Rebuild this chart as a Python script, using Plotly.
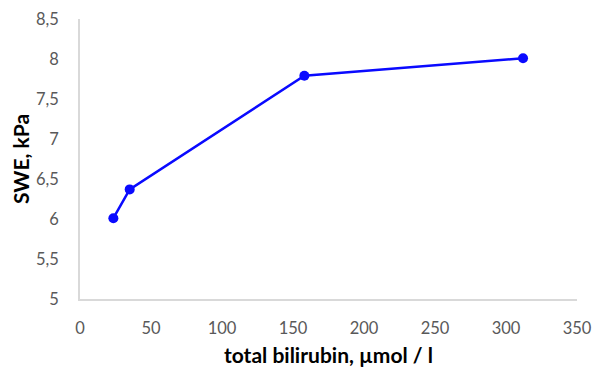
import plotly.graph_objects as go

bilirubin = [23.5, 35, 158, 312]
swe = [6.01, 6.37, 7.79, 8.01]
x_ticks = [0, 50, 100, 150, 200, 250, 300, 350]
y_ticks = [5, 5.5, 6, 6.5, 7, 7.5, 8, 8.5]

fig = go.Figure()
fig.add_trace(go.Scatter(
    x=bilirubin, y=swe, mode="lines+markers",
    line=dict(color="#0a0aff", width=2.5),
    marker=dict(color="#0a0aff", size=10),
    showlegend=False,
))

# page body has an 8px default margin, so margins are reduced accordingly
fig.update_layout(
    width=607, height=369,
    margin=dict(l=72, r=38, t=11, b=78),
    plot_bgcolor="white", paper_bgcolor="white",
    separators=", ",
    font=dict(family="Lato, Liberation Sans, sans-serif", color="#595959", size=16.5),
    xaxis=dict(
        range=[0, 350], tickvals=x_ticks, showgrid=False,
        showline=True, linecolor="#d9d9d9", linewidth=1.5,
        zeroline=False, ticks="", ticklabelstandoff=13, automargin=False,
        title=dict(text="<b>total bilirubin, µmol / l</b>",
                   font=dict(size=21, color="black"), standoff=12),
    ),
    yaxis=dict(
        range=[5, 8.5], tickvals=y_ticks, showgrid=False,
        showline=True, linecolor="#d9d9d9", linewidth=1.5,
        zeroline=False, ticks="", ticklabelstandoff=16, automargin=False,
        title=dict(text="<b>SWE, kPa</b>",
                   font=dict(size=21, color="black"), standoff=3),
    ),
)

fig.write_html("out.html")
